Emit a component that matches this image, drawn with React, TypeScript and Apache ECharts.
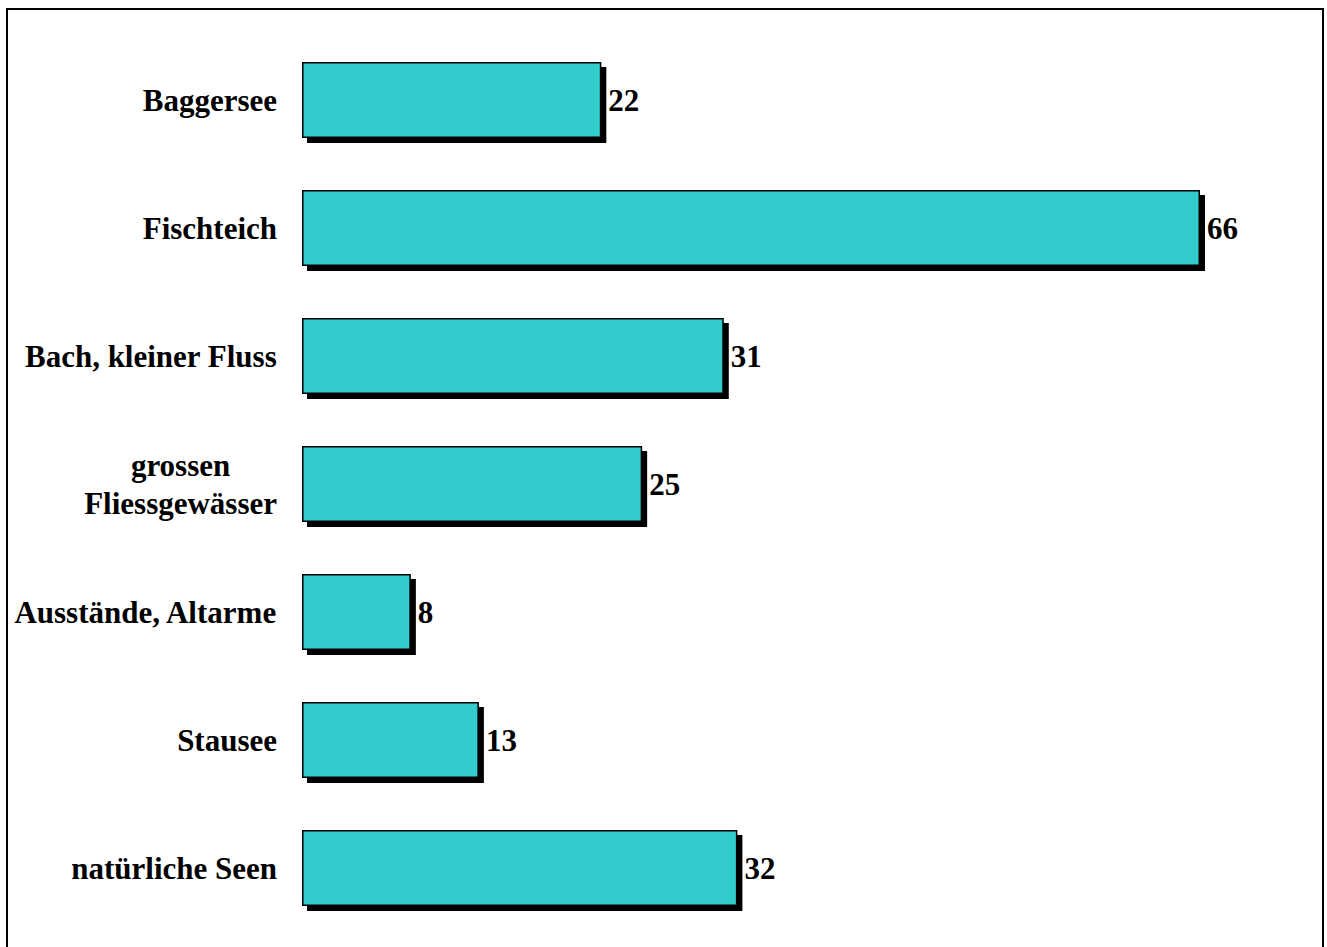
import React, { useEffect, useRef } from "react";
import * as echarts from "echarts";

const categories = [
  "Baggersee",
  "Fischteich",
  "Bach, kleiner Fluss",
  "grossen\nFliessgewässer",
  "Ausstände, Altarme",
  "Stausee",
  "natürliche Seen",
];
const values = [22, 66, 31, 25, 8, 13, 32];

const FONT = "'Liberation Serif', 'Times New Roman', serif";

export default function App() {
  const ref = useRef<HTMLDivElement>(null);
  useEffect(() => {
    if (!ref.current) return;
    const chart = echarts.init(ref.current, null, { renderer: "svg" });
    chart.setOption({
      animation: false,
      backgroundColor: "#ffffff",
      textStyle: { fontFamily: FONT },
      graphic: [
        {
          type: "rect",
          shape: { x: 7, y: 9, width: 1316, height: 960 },
          style: { fill: "none", stroke: "#000", lineWidth: 2 },
          silent: true,
        },
      ],
      grid: { left: 302, right: 127, top: 36, bottom: 15, containLabel: false },
      xAxis: {
        type: "value",
        min: 0,
        max: 66,
        show: false,
      },
      yAxis: {
        type: "category",
        data: categories,
        inverse: true,
        axisLine: { show: false },
        axisTick: { show: false },
        axisLabel: {
          margin: 25,
          color: "#000",
          fontSize: 31,
          fontWeight: "bold",
          fontFamily: FONT,
          lineHeight: 38,
          formatter: (v: string) =>
            v
              .split("\n")
              .map((s) => `{a|${s}}`)
              .join("\n"),
          rich: {
            a: {
              align: "center",
              fontSize: 31,
              fontWeight: "bold",
              color: "#000",
              lineHeight: 38,
              fontFamily: FONT,
            },
          },
        },
      },
      series: [
        {
          type: "bar",
          data: values,
          barWidth: 76,
          itemStyle: {
            color: "#33CCCC",
            borderColor: "#000",
            borderWidth: 1.5,
            shadowColor: "#000",
            shadowBlur: 0,
            shadowOffsetX: 5,
            shadowOffsetY: 5,
          },
          label: {
            show: true,
            position: "right",
            distance: 7,
            color: "#000",
            fontSize: 31,
            fontWeight: "bold",
            fontFamily: FONT,
          },
        },
      ],
    });
    return () => chart.dispose();
  }, []);
  return (
    <div
      ref={ref}
      style={{ position: "fixed", left: 0, top: 0, width: 1327, height: 947 }}
    />
  );
}
